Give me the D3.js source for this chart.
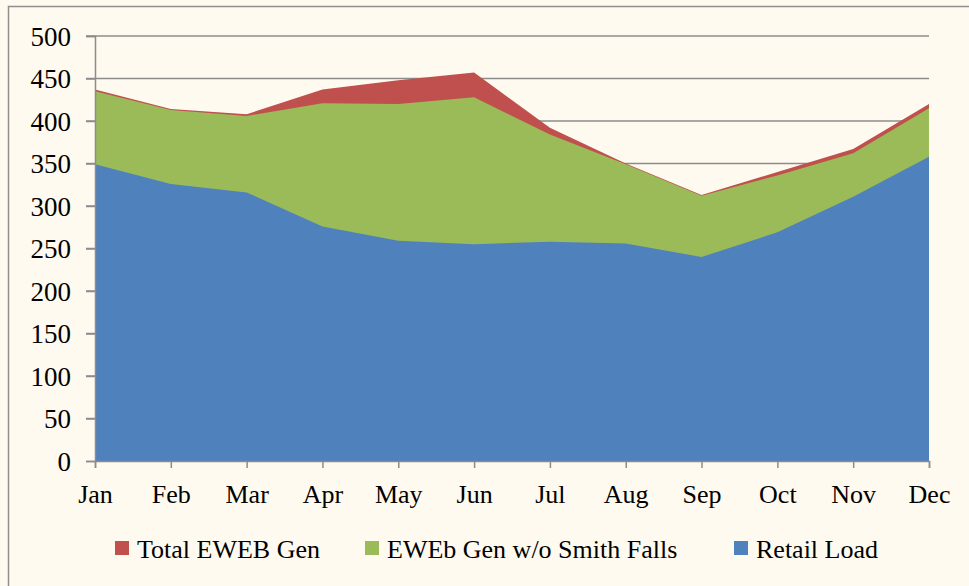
<!DOCTYPE html>
<html>
<head>
<meta charset="utf-8">
<script src="https://cdn.jsdelivr.net/npm/d3@7"></script>
<style>
  body { margin: 0; background: #fffaef; }
  svg { display: block; }
  text { font-family: "Liberation Serif", "DejaVu Serif", serif; fill: #000; }
</style>
</head>
<body>
<div id="chart"></div>
<script>
// Data
const months = ["Jan", "Feb", "Mar", "Apr", "May", "Jun", "Jul", "Aug", "Sep", "Oct", "Nov", "Dec"];
const totalGen = [437, 414, 408, 437, 448, 457, 392, 350, 313, 340, 367, 420];
const genNoSmith = [435, 413, 406, 421, 420, 428, 384, 349, 312, 336, 362, 415];
const retailLoad = [349, 326, 316, 276, 259, 255, 258, 256, 240, 269, 311, 358];
const yTicks = [0, 50, 100, 150, 200, 250, 300, 350, 400, 450, 500];

const series = [
    { name: "Total EWEB Gen", values: totalGen, color: "#c0504d" },
    { name: "EWEb Gen w/o Smith Falls", values: genNoSmith, color: "#9bbb59" },
    { name: "Retail Load", values: retailLoad, color: "#4f81bd" }
];

const width = 969, height = 586;
const svg = d3.select("#chart").append("svg")
    .attr("width", width)
    .attr("height", height);

// outer chart frame
svg.append("rect")
    .attr("x", 8.5).attr("y", 6.5)
    .attr("width", 1000).attr("height", 1000)
    .attr("fill", "#fffaef")
    .attr("stroke", "#8e8e8e")
    .attr("stroke-width", 1.5);

const x = d3.scalePoint().domain(months).range([95, 929]);
const y = d3.scaleLinear().domain([0, 500]).range([461, 36]);

// gridlines
svg.append("g")
    .selectAll("line")
    .data(yTicks.filter(d => d > 0))
    .enter()
    .append("line")
    .attr("x1", 86).attr("x2", 929)
    .attr("y1", d => y(d)).attr("y2", d => y(d))
    .attr("stroke", "#8c8c8c")
    .attr("stroke-width", 1.5);

// overlapping areas, largest drawn first
const area = d3.area()
    .x((d, i) => x(months[i]))
    .y0(y(0))
    .y1(d => y(d));

svg.append("g")
    .selectAll("path")
    .data(series)
    .enter()
    .append("path")
    .attr("d", d => area(d.values))
    .attr("fill", d => d.color);

// y axis
const yAxis = svg.append("g")
    .attr("transform", "translate(95,0)")
    .call(d3.axisLeft(y).tickValues(yTicks).tickSize(9).tickPadding(15));
yAxis.selectAll("text")
    .style("font-size", "27px")
    .attr("dy", "0.34em");

// x axis
const xAxis = svg.append("g")
    .attr("transform", `translate(0,${y(0)})`)
    .call(d3.axisBottom(x).tickSize(7).tickPadding(17));
xAxis.selectAll("text")
    .style("font-size", "26px")
    .attr("dy", "0.71em");

svg.selectAll(".domain, .tick line")
    .attr("stroke", "#8c8c8c")
    .attr("stroke-width", 1.5);

// legend
const legendX = [115, 365, 734];
const legend = svg.append("g")
    .selectAll("g")
    .data(series)
    .enter()
    .append("g")
    .attr("transform", (d, i) => `translate(${legendX[i]},541)`);

legend.append("rect")
    .attr("width", 14).attr("height", 14)
    .attr("fill", d => d.color);

legend.append("text")
    .attr("x", 22).attr("y", 17)
    .style("font-size", "26px")
    .text(d => d.name);
</script>
</body>
</html>
